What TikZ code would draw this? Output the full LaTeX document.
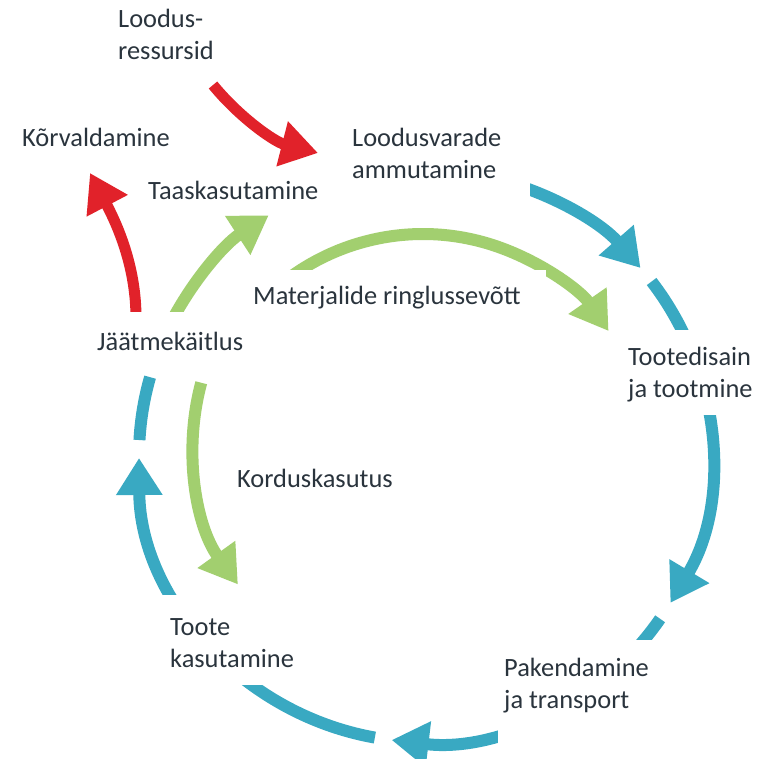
\documentclass[tikz,border=0pt]{standalone}
\usepackage{fontspec}
\setmainfont{Carlito}
\usetikzlibrary{arrows.meta,calc}
\definecolor{cblue}{HTML}{39A9C2}
\definecolor{cgreen}{HTML}{A2CF6F}
\definecolor{cred}{HTML}{E1222A}
\definecolor{ctext}{HTML}{2A343D}
\begin{document}
\begin{tikzpicture}[x=1pt,y=-1pt,
  tipped/.style={-{Triangle[length=37pt,width=44pt]}},
  barc/.style={draw=cblue,line width=12pt},
  garc/.style={draw=cgreen,line width=12pt},
  rarc/.style={draw=cred,line width=11pt},
  lbl/.style={text=ctext,font=\fontsize{26.4}{32}\selectfont,inner sep=0pt,anchor=base west,align=left},
  cover/.style={fill=white,draw=none}]
\useasboundingbox[fill=white] (0,0) rectangle (767,758);
\coordinate (O) at (425,456);
\coordinate (Og) at (423,460);
\coordinate (Ok) at (432,445);
% blue cycle
\draw[barc,tipped] ($(O)+(-78:286)$) arc[start angle=-78,end angle=-41.1,radius=286];
\draw[barc,tipped] ($(O)+(-37.6:286)$) arc[start angle=-37.6,end angle=30.9,radius=286];
\draw[barc,tipped] ($(O)+(34.7:286)$) arc[start angle=34.7,end angle=96.7,radius=286];
\draw[barc,tipped] ($(O)+(100.1:286)$) arc[start angle=100.1,end angle=179.6,radius=286];
\draw[barc] ($(O)+(183.2:286)$) arc[start angle=183.2,end angle=196,radius=286];
% green
\draw[garc,tipped] ($(O)+(205:287)$) arc[start angle=205,end angle=237,radius=287];
\draw[garc,tipped] ($(Og)+(-132:226)$) arc[start angle=-132,end angle=-34.8,radius=226];
\draw[garc,tipped] ($(Ok)+(195.1:239)$) arc[start angle=195.1,end angle=144.3,radius=239];
% red
\coordinate (r1s) at (213,85);
\coordinate (r1e) at (318,153);
\draw[rarc,tipped] (r1s) .. controls (240,118) and (275,142) .. (r1e);
\coordinate (r2s) at (136,318);
\coordinate (r2e) at (90,173);
\draw[rarc,tipped] (r2s) .. controls (136,270) and (120,230) .. (r2e);
% covers
\fill[cover] (345,110) rectangle (530,200);
\fill[cover] (620,330) rectangle (767,415);
\fill[cover] (498,640) rectangle (700,758);
\fill[cover] (150,595) rectangle (300,685);
\fill[cover] (60,312) rectangle (265,372);
\fill[cover] (240,270) rectangle (546,322);
% labels
\node[lbl] (res) at (118,59) {Loodus-\\ressursid};
\node[lbl] (korv) at (22,146) {Kõrvaldamine};
\node[lbl] (taas) at (148,199) {Taaskasutamine};
\node[lbl] (lood) at (352,178) {Loodusvarade\\ammutamine};
\node[lbl] (mat) at (253,304) {Materjalide ringlussevõtt};
\node[lbl] (toot) at (628,397) {Tootedisain\\ja tootmine};
\node[lbl] (jaat) at (97,350) {Jäätmekäitlus};
\node[lbl] (kord) at (237,487) {Korduskasutus};
\node[lbl] (toote) at (170,667) {Toote\\kasutamine};
\node[lbl] (pak) at (504,708) {Pakendamine\\ja transport};
\end{tikzpicture}
\end{document}
